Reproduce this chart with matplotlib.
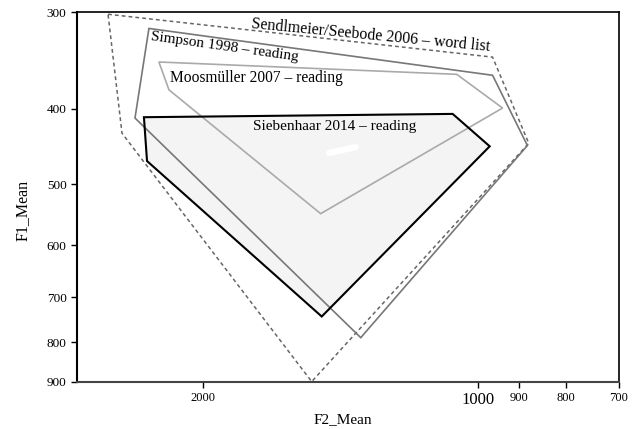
import matplotlib
matplotlib.use('Agg')
import matplotlib.pyplot as plt
from matplotlib.patches import Polygon
from matplotlib.ticker import FixedLocator, FixedFormatter, NullLocator

plt.rcParams['font.family'] = ['Liberation Serif', 'DejaVu Serif']

# vowel space polygons (F2, F1 in Hz)
sendlmeier_f2 = [2541, 963, 879, 1520, 2453]
sendlmeier_f1 = [302, 343, 443, 899, 430]

simpson_f2 = [2292, 963, 882, 1343, 2374]
simpson_f1 = [315, 362, 446, 789, 411]

moos_f2 = [2235, 1054, 939, 1486, 2179]
moos_f1 = [348, 361, 399, 546, 378]

sieben_f2 = [2321, 1065, 970, 1482, 2303]
sieben_f1 = [410, 406, 447, 741, 467]

x_ticks = [2000, 1000, 900, 800, 700]
y_ticks = [300, 400, 500, 600, 700, 800, 900]

fig = plt.figure(figsize=(6.38, 4.29), dpi=100)
ax = fig.add_axes([0.1207, 0.1096, 0.8495, 0.8624])
ax.set_xscale('log')
ax.set_yscale('log')
ax.set_xlim(2748, 700)
ax.set_ylim(900, 300)


def poly(f2, f1, **kw):
    ax.add_patch(Polygon(list(zip(f2, f1)), closed=True, **kw))


poly(sieben_f2, sieben_f1, facecolor='#f4f4f4', edgecolor='none', zorder=1)
poly(sendlmeier_f2, sendlmeier_f1, fill=False, edgecolor='#666666',
     lw=1.1, ls=(0, (2.5, 2)), zorder=2)
poly(simpson_f2, simpson_f1, fill=False, edgecolor='#777777', lw=1.2, zorder=2)
poly(moos_f2, moos_f1, fill=False, edgecolor='#aaaaaa', lw=1.2, zorder=2)
poly(sieben_f2, sieben_f1, fill=False, edgecolor='black', lw=1.5, zorder=3)

# small white smear inside the Siebenhaar area
ax.plot([1455, 1360], [456, 448], color='white', lw=4.5, solid_capstyle='round', zorder=3)

ax.text(1310, 322, 'Sendlmeier/Seebode 2006 – word list', fontsize=11.5,
        rotation=-5.5, ha='center', va='center', rotation_mode='anchor')
ax.text(1892, 333, 'Simpson 1998 – reading', fontsize=11,
        rotation=-8, ha='center', va='center', rotation_mode='anchor')
ax.text(1746, 365, 'Moosmüller 2007 – reading', fontsize=11.2,
        ha='center', va='center')
ax.text(1434, 421, 'Siebenhaar 2014 – reading', fontsize=11,
        ha='center', va='center')

ax.xaxis.set_major_locator(FixedLocator(x_ticks))
ax.xaxis.set_major_formatter(FixedFormatter([str(t) for t in x_ticks]))
ax.xaxis.set_minor_locator(NullLocator())
ax.yaxis.set_major_locator(FixedLocator(y_ticks))
ax.yaxis.set_major_formatter(FixedFormatter([str(t) for t in y_ticks]))
ax.yaxis.set_minor_locator(NullLocator())
ax.tick_params(length=4, width=1)
ax.tick_params(axis='y', labelsize=9.5)
ax.tick_params(axis='x', labelsize=9)
for lab in ax.get_xticklabels():
    if lab.get_text() == '1000':
        lab.set_fontsize(12)

ax.spines['left'].set_linewidth(1.5)
ax.spines['bottom'].set_linewidth(1.5)
ax.spines['bottom'].set_color('#444444')
ax.spines['top'].set_linewidth(1.2)
ax.spines['right'].set_linewidth(1.2)

fig.text(23 / 638, 1 - 210 / 429, 'F1_Mean', fontsize=11.5, rotation=90,
         ha='center', va='center')
fig.text(343 / 638, 1 - 420 / 429, 'F2_Mean', fontsize=11,
         ha='center', va='center')

fig.savefig('out.png', dpi=100)
